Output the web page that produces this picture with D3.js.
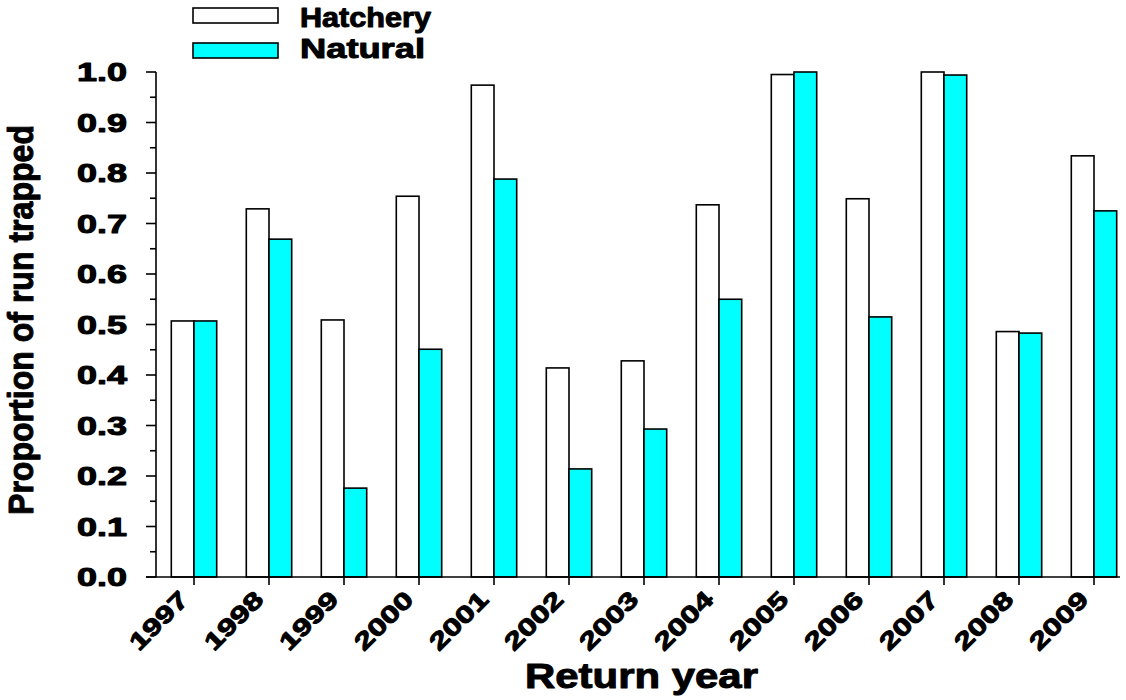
<!DOCTYPE html>
<html><head><meta charset="utf-8">
<script src="https://cdn.jsdelivr.net/npm/d3@7"></script>
<style>body{margin:0;background:#fff}text{font-family:"Liberation Sans",Arial,sans-serif;font-weight:bold;fill:#000;stroke:#000;stroke-width:1;stroke-linejoin:round}</style>
</head><body><svg id="c" width="1126" height="700"></svg>
<script>
const years = ["1997","1998","1999","2000","2001","2002","2003","2004","2005","2006","2007","2008","2009"];
const hatchery = [0.507,0.729,0.509,0.754,0.974,0.414,0.428,0.737,0.995,0.749,1.000,0.486,0.834];
const natural  = [0.507,0.669,0.176,0.451,0.788,0.214,0.293,0.550,1.000,0.515,0.994,0.483,0.725];
const yTicks = [0.0,0.1,0.2,0.3,0.4,0.5,0.6,0.7,0.8,0.9,1.0];
const yMinor = [0.05,0.15,0.25,0.35,0.45,0.55,0.65,0.75,0.85,0.95];
const seriesNames = ["Hatchery","Natural"];
const seriesColors = ["#ffffff","#00ffff"];

const svg = d3.select("#c");
const y = d3.scaleLinear().domain([0,1]).range([577,72]);
const x = d3.scalePoint().domain(years).range([194,1094]);
const bw = 22.7;

// bars
const g = svg.append("g");
years.forEach((yr,i)=>{
  g.append("rect").attr("x",x(yr)-bw).attr("y",y(hatchery[i])).attr("width",bw).attr("height",y(0)-y(hatchery[i]))
    .attr("fill",seriesColors[0]).attr("stroke","#000").attr("stroke-width",1.6);
  g.append("rect").attr("x",x(yr)).attr("y",y(natural[i])).attr("width",bw).attr("height",y(0)-y(natural[i]))
    .attr("fill",seriesColors[1]).attr("stroke","#000").attr("stroke-width",1.6);
});

// y axis
const ya = svg.append("g").attr("stroke","#000").attr("stroke-width",1.6);
ya.append("line").attr("x1",156).attr("x2",156).attr("y1",y(1)).attr("y2",y(0));
yTicks.forEach(t=>ya.append("line").attr("x1",146).attr("x2",156).attr("y1",y(t)).attr("y2",y(t)));
yMinor.forEach(t=>ya.append("line").attr("x1",150).attr("x2",156).attr("y1",y(t)).attr("y2",y(t)));
yTicks.forEach(t=>svg.append("text").attr("x",127).attr("y",y(t)+9).attr("text-anchor","end")
  .attr("font-size",25).attr("textLength",50).attr("lengthAdjust","spacingAndGlyphs").text(t.toFixed(1)));

// x axis
const xa = svg.append("g").attr("stroke","#000").attr("stroke-width",1.6);
xa.append("line").attr("x1",146).attr("x2",1120).attr("y1",y(0)).attr("y2",y(0));
years.forEach(yr=>xa.append("line").attr("x1",x(yr)).attr("x2",x(yr)).attr("y1",y(0)).attr("y2",y(0)+8));
years.forEach(yr=>svg.append("text").attr("text-anchor","end").attr("font-size",24)
  .attr("textLength",72).attr("lengthAdjust","spacingAndGlyphs")
  .attr("transform",`translate(${x(yr)-4},601) rotate(-45)`).text(yr));

// titles
svg.append("text").attr("x",525).attr("y",688).attr("font-size",35).attr("textLength",233)
  .attr("lengthAdjust","spacingAndGlyphs").text("Return year");
svg.append("text").attr("transform","translate(33,320) rotate(-90)").attr("text-anchor","middle")
  .attr("font-size",35).attr("textLength",390).attr("lengthAdjust","spacingAndGlyphs").text("Proportion of run trapped");

// legend
const legY = [8,43], legBase=[27,58], legLen=[131,125];
seriesNames.forEach((n,i)=>{
  svg.append("rect").attr("x",193).attr("y",legY[i]).attr("width",85).attr("height",15)
    .attr("fill",seriesColors[i]).attr("stroke","#000").attr("stroke-width",1.6);
  svg.append("text").attr("x",300).attr("y",legBase[i]).attr("font-size",28).attr("textLength",legLen[i])
    .attr("lengthAdjust","spacingAndGlyphs").text(n);
});
</script></body></html>
